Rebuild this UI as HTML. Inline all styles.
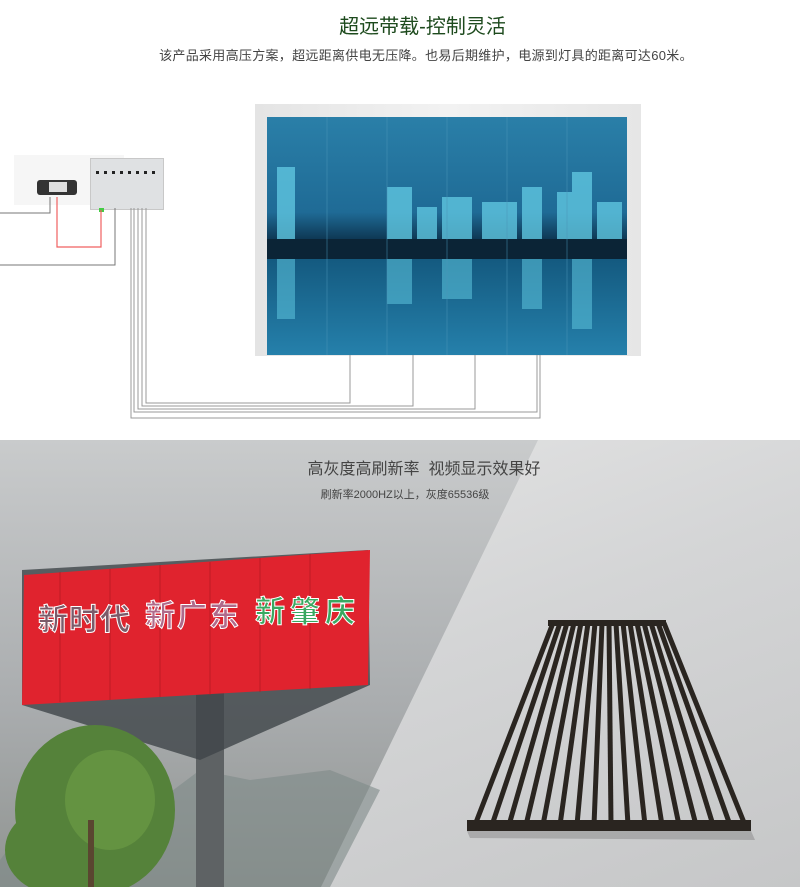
<!DOCTYPE html>
<html><head><meta charset="utf-8"><style>
body{margin:0;width:800px;height:895px;overflow:hidden;background:#fff;font-family:"Liberation Sans","Noto Sans CJK SC",sans-serif;position:relative}
.a{position:absolute}
</style></head><body>
<div class="a" style="left:0;top:10px;width:845px;text-align:center;font-size:20px;color:#1d4a1d">超远带载-控制灵活</div>
<div class="a" style="left:0;top:45px;width:852px;text-align:center;font-size:13px;color:#444;letter-spacing:0.3px">该产品采用高压方案，超远距离供电无压降。也易后期维护，电源到灯具的距离可达60米。</div>

<div class="a" style="left:255px;top:104px;width:386px;height:252px;background:linear-gradient(90deg,#e4e4e4,#f2f2f2 50%,#e6e6e6)"></div>
<div class="a" style="left:267px;top:117px;width:360px;height:238px;background:linear-gradient(180deg,#2a7fa8 0%,#1f6b96 40%,#0d3550 52%,#145a80 60%,#2580ab 100%)"></div>
<svg class="a" style="left:267px;top:117px" width="360" height="238">
<g fill="#5fc6e0" opacity=".8">
<rect x="10" y="50" width="18" height="75"/><rect x="120" y="70" width="25" height="55"/><rect x="150" y="90" width="20" height="35"/><rect x="175" y="80" width="30" height="45"/><rect x="215" y="85" width="35" height="40"/><rect x="255" y="70" width="20" height="55"/><rect x="290" y="75" width="30" height="50"/><rect x="305" y="55" width="20" height="70"/><rect x="330" y="85" width="25" height="40"/>
</g>
<rect x="0" y="122" width="360" height="20" fill="#0b2436"/>
<g fill="#58bed8" opacity=".6">
<rect x="10" y="142" width="18" height="60"/><rect x="120" y="142" width="25" height="45"/><rect x="175" y="142" width="30" height="40"/><rect x="255" y="142" width="20" height="50"/><rect x="305" y="142" width="20" height="70"/>
</g>
<g stroke="#4a95b8" stroke-width="1" opacity=".5"><line x1="60" y1="0" x2="60" y2="238"/><line x1="120" y1="0" x2="120" y2="238"/><line x1="180" y1="0" x2="180" y2="238"/><line x1="240" y1="0" x2="240" y2="238"/><line x1="300" y1="0" x2="300" y2="238"/></g>
</svg>

<div class="a" style="left:14px;top:155px;width:110px;height:50px;background:#f6f6f6"></div>
<div class="a" style="left:37px;top:180px;width:40px;height:15px;background:#333;border-radius:3px"></div>
<div class="a" style="left:49px;top:182px;width:18px;height:10px;background:#ddd"></div>
<div class="a" style="left:90px;top:158px;width:72px;height:50px;background:#dfe1e3;border:1px solid #c8c8c8"></div>
<svg class="a" style="left:0;top:0" width="640" height="430" fill="none">
<g fill="#222"><rect x="96" y="171" width="3" height="3"/><rect x="104" y="171" width="3" height="3"/><rect x="112" y="171" width="3" height="3"/><rect x="120" y="171" width="3" height="3"/><rect x="128" y="171" width="3" height="3"/><rect x="136" y="171" width="3" height="3"/><rect x="144" y="171" width="3" height="3"/><rect x="152" y="171" width="3" height="3"/></g>
<rect x="99" y="208" width="5" height="4" fill="#4c4"/>
<g stroke="#777" stroke-width="1"><polyline points="0,213 50,213 50,197"/><polyline points="0,265 115,265 115,208"/></g>
<polyline points="57,197 57,247 101,247 101,210" stroke="#f06060" stroke-width="1.2"/>
<g stroke="#999" stroke-width="1">
<polyline points="146,208 146,403 350,403 350,355"/>
<polyline points="142,208 142,406 413,406 413,355"/>
<polyline points="138,208 138,409 475,409 475,355"/>
<polyline points="134,208 134,412 537,412 537,355"/>
<polyline points="131,208 131,418 540,418 540,355"/>
</g>
</svg>

<div class="a" style="left:0;top:440px;width:800px;height:447px;background:linear-gradient(180deg,#c9cbcc,#a9acae 60%,#909491)"></div>
<div class="a" style="left:0;top:440px;width:800px;height:447px;background:linear-gradient(160deg,#e8e8e8,#d4d5d6 50%,#c6c7c8);clip-path:polygon(538px 0,800px 0,800px 447px,321px 447px)"></div>
<svg class="a" style="left:0;top:440px" width="800" height="447">
<polygon points="0,420 30,380 80,400 120,390 200,330 250,340 330,330 380,350 330,447 0,447" fill="#7f8a88" opacity=".6"/>
<rect x="196" y="250" width="28" height="197" fill="#5e6264"/>
<polygon points="22,265 200,320 245,300 370,245 368,110 22,130" fill="#3f4548" opacity=".8"/>
<polygon points="24,135 370,110 368,245 22,265" fill="#e0232e"/>
<g stroke="#b01820" stroke-width="1" opacity=".7"><line x1="60" y1="132" x2="60" y2="262"/><line x1="110" y1="129" x2="110" y2="260"/><line x1="160" y1="125" x2="160" y2="257"/><line x1="210" y1="122" x2="210" y2="255"/><line x1="260" y1="118" x2="260" y2="252"/><line x1="310" y1="114" x2="310" y2="249"/></g>
<text x="38" y="190" font-size="30" font-weight="bold" fill="#7b5b6a" stroke="#fff" stroke-width="1" textLength="92" font-family="Noto Sans CJK SC,sans-serif">新时代</text>
<text x="145" y="186" font-size="30" font-weight="bold" fill="#b06a8a" stroke="#fff" stroke-width="1" textLength="94" font-family="Noto Sans CJK SC,sans-serif">新广东</text>
<text x="255" y="182" font-size="30" font-weight="bold" fill="#3aa860" stroke="#fff" stroke-width="1" textLength="100" font-family="Noto Sans CJK SC,sans-serif">新肇庆</text>
<g fill="#55823a"><ellipse cx="95" cy="370" rx="80" ry="85"/><ellipse cx="60" cy="410" rx="55" ry="45"/></g>
<ellipse cx="110" cy="360" rx="45" ry="50" fill="#6b9a45" opacity=".7"/>
<rect x="88" y="380" width="6" height="67" fill="#5a4630"/>
<polygon points="467,391 751,391 755,400 470,398" fill="#888" opacity=".5"/>
<g stroke="#2a2520" stroke-width="5">
<line x1="553" y1="183" x2="475" y2="385"/><line x1="560" y1="183" x2="492" y2="385"/><line x1="567" y1="183" x2="509" y2="385"/><line x1="574" y1="183" x2="526" y2="385"/><line x1="581" y1="183" x2="543" y2="385"/><line x1="588" y1="183" x2="560" y2="385"/><line x1="595" y1="183" x2="577" y2="385"/><line x1="602" y1="183" x2="594" y2="385"/><line x1="609" y1="183" x2="611" y2="385"/><line x1="616" y1="183" x2="628" y2="385"/><line x1="623" y1="183" x2="645" y2="385"/><line x1="630" y1="183" x2="662" y2="385"/><line x1="637" y1="183" x2="679" y2="385"/><line x1="644" y1="183" x2="696" y2="385"/><line x1="651" y1="183" x2="713" y2="385"/><line x1="658" y1="183" x2="730" y2="385"/><line x1="664" y1="183" x2="745" y2="385"/>
</g>
<rect x="548" y="180" width="118" height="6" fill="#2a2520"/>
<rect x="467" y="380" width="284" height="11" fill="#2a2520"/>
</svg>
<div class="a" style="left:0;top:455px;width:848px;text-align:center;font-size:16px;color:#444">高灰度高刷新率&nbsp; 视频显示效果好</div>
<div class="a" style="left:0;top:486px;width:810px;text-align:center;font-size:11px;color:#444">刷新率2000HZ以上，灰度65536级</div>
</body></html>
